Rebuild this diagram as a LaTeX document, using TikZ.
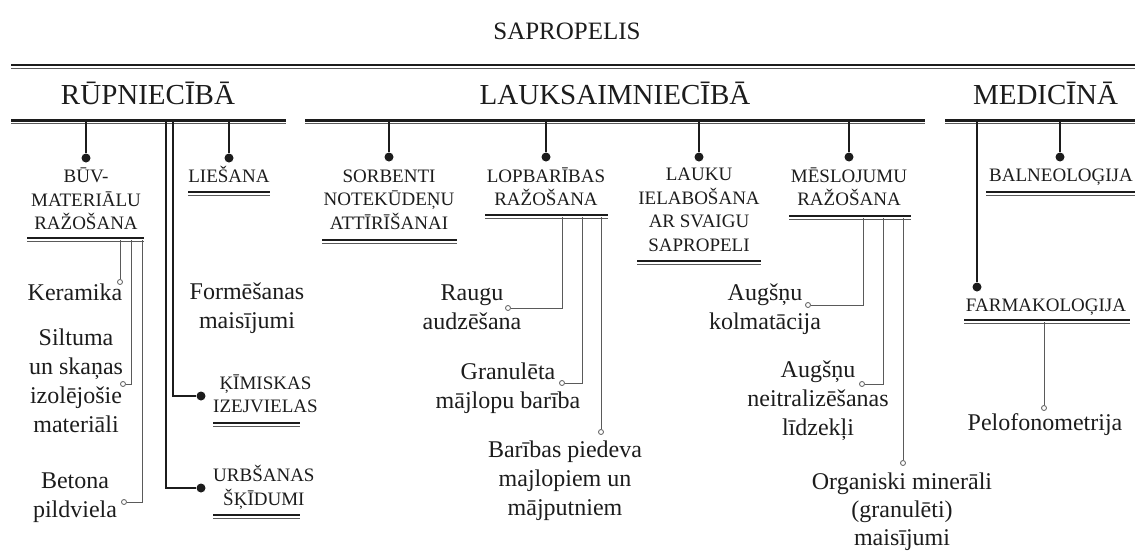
\documentclass[tikz,border=0pt]{standalone}
\usepackage{fontspec}
\setmainfont{Liberation Serif}
\usetikzlibrary{positioning,calc}
\definecolor{ink}{HTML}{1C1C1C}
\definecolor{twiggray}{HTML}{5A5A5A}
\tikzset{
  rootlabel/.style={font=\fontsize{25}{30}\selectfont,text=ink,inner sep=0pt},
  branch/.style={font=\fontsize{29}{34}\selectfont,text=ink,inner sep=0pt},
  capsitem/.style={font=\fontsize{19}{23.5}\selectfont,text=ink,align=center,inner sep=0pt},
  leaf/.style={font=\fontsize{24}{29}\selectfont,text=ink,align=center,inner sep=0pt},
  knob/.style={circle,fill=ink,inner sep=0pt,minimum size=9pt},
  pin/.style={circle,draw=twiggray,fill=white,line width=0.8pt,inner sep=0pt,minimum size=5pt},
  stem/.style={line width=2.2pt,draw=ink},
  twig/.style={line width=1pt,draw=twiggray}
}
\newcommand{\twinrule}[2]{%
  \draw[line width=2.4pt,ink] #1 -- #2;
  \draw[line width=0.9pt,twiggray] ($#1+(0,3.2)$) -- ($#2+(0,3.2)$);}

\begin{document}
\begin{tikzpicture}[x=1pt,y=-1pt]
\useasboundingbox (0,0) rectangle (1135,552);

\node[rootlabel] (root) at (567,31) {SAPROPELIS};
\twinrule{(11,65)}{(1135,65)}

\node[branch] (rup) at (148,93) {RŪPNIECĪBĀ};
\node[branch] (lauk) at (615,93) {LAUKSAIMNIECĪBĀ};
\node[branch] (med) at (1045.5,93) {MEDICĪNĀ};
\twinrule{(11,120.5)}{(286,120.5)}
\twinrule{(305,120.5)}{(925,120.5)}
\twinrule{(945,120.5)}{(1135,120.5)}
\coordinate (bar) at (0,120);

% ruepnieciba
\node[knob] (dBuv) at (86,158) {};
\node[knob] (dLie) at (229,158) {};
\node[knob] (dKim) at (201,396) {};
\node[knob] (dUrb) at (201,488) {};
\node[capsitem] (buv) at (86,199) {BŪV-\\MATERIĀLU\\RAŽOŠANA};
\node[capsitem] (lie) at (229,174.5) {LIEŠANA};
\node[capsitem,anchor=west] (kim) at (213,394) {ĶĪMISKAS\\IZEJVIELAS};
\node[capsitem,anchor=west] (urb) at (213,487.5) {URBŠANAS\\ŠĶĪDUMI};
\twinrule{(27,238)}{(144,238)}
\twinrule{(188,192)}{(270,192)}
\twinrule{(213,423)}{(300,423)}
\twinrule{(213,515)}{(300,515)}
\coordinate (sKim) at (173,120);
\coordinate (sUrb) at (166,120);
\draw[stem] (dBuv |- bar) -- (dBuv);
\draw[stem] (dLie |- bar) -- (dLie);
\draw[stem] (sKim) |- (dKim);
\draw[stem] (sUrb) |- (dUrb);

\node[pin] (pKer) at (120,282) {};
\node[pin] (pSil) at (123,384) {};
\node[pin] (pBet) at (124,502) {};
\node[leaf] (ker) at (75,292) {Keramika};
\node[leaf] (sil) at (76,381) {Siltuma\\un skaņas\\izolējošie\\materiāli};
\node[leaf] (bet) at (75,498) {Betona\\pildviela};
\node[leaf] (form) at (247,308) {Formēšanas\\maisījumi};
\coordinate (tKer) at (120,240);
\coordinate (tSil) at (131,240);
\coordinate (tBet) at (142,240);
\draw[twig] (tKer) -- (pKer);
\draw[twig] (tSil) |- (pSil);
\draw[twig] (tBet) |- (pBet);

% lauksaimnieciba
\node[knob] (dSor) at (389,157) {};
\node[knob] (dLop) at (546,157) {};
\node[knob] (dLau) at (699,157) {};
\node[knob] (dMes) at (849,157) {};
\node[capsitem] (sor) at (389,199.5) {SORBENTI\\NOTEKŪDEŅU\\ATTĪRĪŠANAI};
\node[capsitem] (lop) at (546,186.5) {LOPBARĪBAS\\RAŽOŠANA};
\node[capsitem] (lau) at (699,210) {LAUKU\\IELABOŠANA\\AR SVAIGU\\SAPROPELI};
\node[capsitem] (mes) at (849,186.5) {MĒSLOJUMU\\RAŽOŠANA};
\twinrule{(322,240)}{(457,240)}
\twinrule{(485,215)}{(608,215)}
\twinrule{(637,261)}{(761,261)}
\twinrule{(789,216)}{(911,216)}
\draw[stem] (dSor |- bar) -- (dSor);
\draw[stem] (dLop |- bar) -- (dLop);
\draw[stem] (dLau |- bar) -- (dLau);
\draw[stem] (dMes |- bar) -- (dMes);

\node[pin] (pRau) at (508,308) {};
\node[pin] (pGra) at (562,383) {};
\node[pin] (pPie) at (601,432) {};
\node[leaf] (rau) at (472,307.5) {Raugu\\audzēšana};
\node[leaf] (gra) at (508,388) {Granulēta\\mājlopu barība};
\node[leaf] (pie) at (565,481) {Barības piedeva\\majlopiem un\\mājputniem};
\coordinate (tRau) at (562,217);
\coordinate (tGra) at (582,217);
\coordinate (tPie) at (601,217);
\draw[twig] (tRau) |- (pRau);
\draw[twig] (tGra) |- (pGra);
\draw[twig] (tPie) -- (pPie);

\node[pin] (pKol) at (808,305) {};
\node[pin] (pNei) at (862,384) {};
\node[pin] (pOrg) at (903,463) {};
\node[leaf] (kol) at (765,309.5) {Augšņu\\kolmatācija};
\node[leaf] (nei) at (818,401) {Augšņu\\neitralizēšanas\\līdzekļi};
\node[leaf,font=\fontsize{24}{28}\selectfont] (org) at (902,512) {Organiski minerāli\\(granulēti)\\maisījumi};
\coordinate (tKol) at (863,218);
\coordinate (tNei) at (883,218);
\coordinate (tOrg) at (903,218);
\draw[twig] (tKol) |- (pKol);
\draw[twig] (tNei) |- (pNei);
\draw[twig] (tOrg) -- (pOrg);

% medicina
\node[knob] (dBal) at (1060,157) {};
\node[knob] (dFar) at (977,287) {};
\node[capsitem] (bal) at (1061,177) {BALNEOLOĢIJA};
\node[capsitem] (far) at (1046,307) {FARMAKOLOĢIJA};
\twinrule{(986,192)}{(1135,192)}
\twinrule{(964,320)}{(1130,320)}
\draw[stem] (dBal |- bar) -- (dBal);
\draw[stem] (dFar |- bar) -- (dFar);

\node[pin] (pPel) at (1044,408) {};
\node[leaf] (pel) at (1045,425) {Pelofonometrija};
\coordinate (tPel) at (1044,322);
\draw[twig] (tPel) -- (pPel);

\end{tikzpicture}
\end{document}
